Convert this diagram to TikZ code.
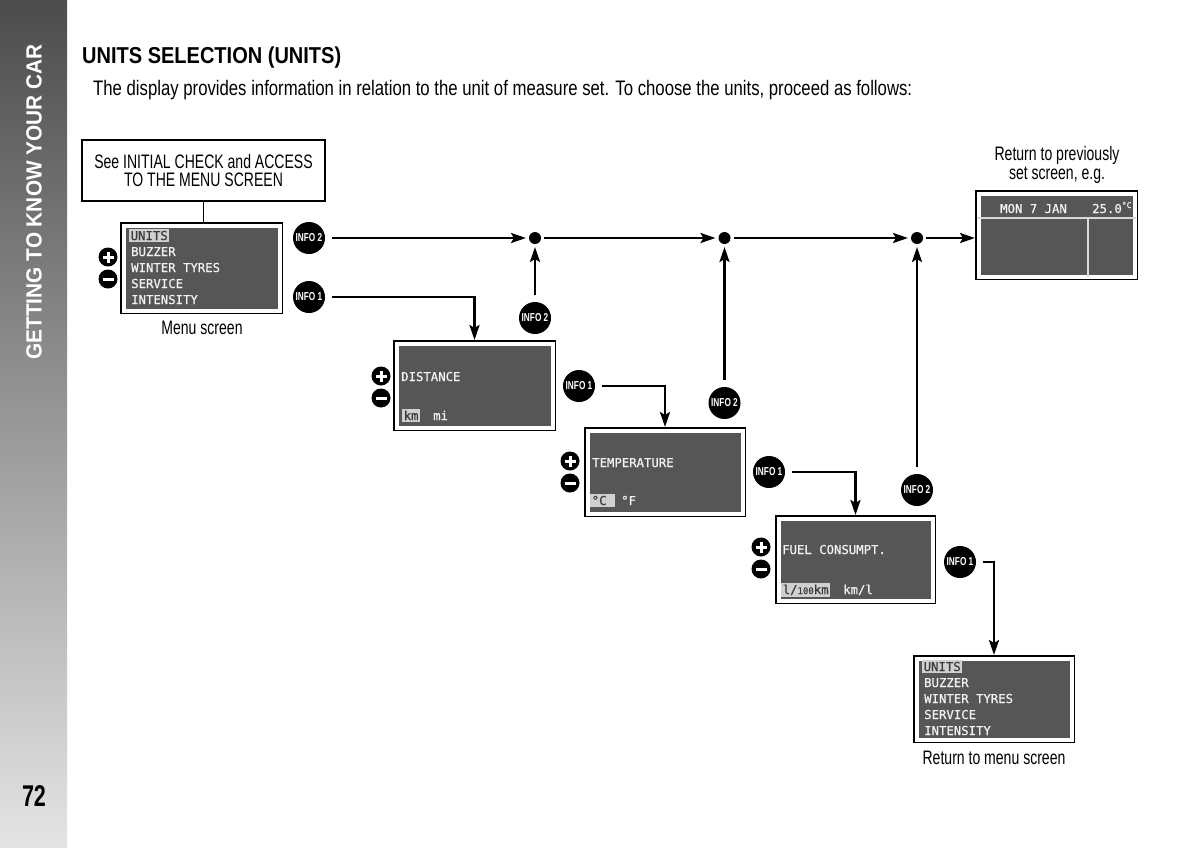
\documentclass[tikz,border=0pt]{standalone}
\usepackage{fontspec}
\usepackage{graphicx}
\setmainfont{Liberation Sans}
\newfontfamily\cond{Liberation Sans}[FakeStretch=0.72]
\newfontfamily\lcd{DejaVu Sans Mono}[FakeBold=0.6]
\usetikzlibrary{arrows.meta}
\definecolor{scr}{HTML}{565656}
\definecolor{lcdtxt}{HTML}{F2F2F2}
\definecolor{hl}{HTML}{D0D0D0}
\definecolor{hltxt}{HTML}{3A3A3A}
\definecolor{sidetop}{HTML}{4C4C4C}
\definecolor{sidebot}{HTML}{E4E4E4}
\newcommand{\hlt}[1]{{\setlength{\fboxsep}{1.5pt}\colorbox{hl}{\textcolor{hltxt}{#1}}}}
\tikzset{
  screen/.style={draw=white, line width=4pt, fill=scr, preaction={draw=black, line width=7pt},
    inner sep=0pt, outer sep=3.5pt},
  lcdtext/.style={anchor=base west, inner sep=0pt, text=lcdtxt, font=\lcd\fontsize{12.3}{14}\selectfont},
  info/.style={circle, fill=black, minimum size=32pt, inner sep=0pt, text=white,
    font=\cond\bfseries\fontsize{11.5}{11.5}\selectfont},
  junction/.style={circle, fill=black, minimum size=12pt, inner sep=0pt, outer sep=3pt},
  pmbtn/.style={circle, fill=black, minimum size=19pt, inner sep=0pt},
  plusbtn/.style={pmbtn, path picture={
    \draw[white, line width=3pt] ([xshift=-5.5pt]path picture bounding box.center) -- ([xshift=5.5pt]path picture bounding box.center)
      ([yshift=-5.5pt]path picture bounding box.center) -- ([yshift=5.5pt]path picture bounding box.center);}},
  minusbtn/.style={pmbtn, path picture={
    \draw[white, line width=3pt] ([xshift=-5.5pt]path picture bounding box.center) -- ([xshift=5.5pt]path picture bounding box.center);}},
  flow/.style={line width=2.6pt, -{Stealth[length=15pt, width=10pt, inset=3pt]}, shorten <=7pt},
  link/.style={line width=2.6pt, -{Stealth[length=15pt, width=10pt, inset=3pt]}},
  caption/.style={anchor=base, inner sep=0pt, font=\cond\fontsize{19.5}{19.5}\selectfont},
}
\begin{document}
\begin{tikzpicture}[x=1pt, y=-1pt]
\useasboundingbox (0,0) rectangle (1200,847);
\fill[white] (0,0) rectangle (1200,847);
% sidebar
\shade[top color=sidetop, bottom color=sidebot] (0,0) rectangle (67,847);
\node[rotate=90, text=white, font=\bfseries\fontsize{22}{22}\selectfont, inner sep=0pt] (side) at (34,202)
  {\resizebox{315pt}{\height}{GETTING TO KNOW YOUR CAR}};
\node[anchor=base, font=\bfseries\fontsize{30}{30}\selectfont, inner sep=0pt] (pagenum) at (34,806)
  {\resizebox{24pt}{\height}{72}};
% heading
\node[anchor=base west, font=\bfseries\fontsize{23}{23}\selectfont, inner sep=0pt] (title) at (82,63)
  {\resizebox{259pt}{\height}{UNITS SELECTION (UNITS)}};
\node[anchor=base west, font=\cond\fontsize{21}{21}\selectfont, inner sep=0pt] (intro) at (93,95)
  {\resizebox{819pt}{\height}{The display provides information in relation to the unit of measure set. To choose the units, proceed as follows:}};
% start box
\node[draw=black, line width=1.3pt, minimum width=243pt, minimum height=61pt, inner sep=0pt,
  font=\cond\fontsize{19.5}{18}\selectfont, align=center] (start) at (203.5,170.5)
  {See INITIAL CHECK and ACCESS\\TO THE MENU SCREEN};
% screens
\node[screen, minimum width=156pt, minimum height=85pt] (menu) at (201.5,268) {};
\node[screen, minimum width=156pt, minimum height=84pt] (dist) at (474.5,385.5) {};
\node[screen, minimum width=155pt, minimum height=83pt] (temp) at (665,472) {};
\node[screen, minimum width=154pt, minimum height=82pt] (fuel) at (855.5,559.5) {};
\node[screen, minimum width=155pt, minimum height=81pt] (menu2) at (994,699) {};
\node[screen, minimum width=156pt, minimum height=83pt] (ret) at (1056.5,235) {};
\draw[white!85!black, line width=2.5pt] (977,218) -- (1136,218) (1088,218) -- (1088,277);
% menu screen text
\node[lcdtext] (m1) at (129,240) {\hlt{UNITS}};
\node[lcdtext] (m2) at (131,256) {BUZZER};
\node[lcdtext] (m3) at (131,272) {WINTER TYRES};
\node[lcdtext] (m4) at (131,288) {SERVICE};
\node[lcdtext] (m5) at (131,304) {INTENSITY};
\node[caption] (menucap) at (202,334) {Menu screen};
% distance
\node[lcdtext] (d1) at (401,381) {DISTANCE};
\node[lcdtext] (d2) at (402,420) {\hlt{km}};
\node[lcdtext] (d3) at (433,420) {mi};
% temperature
\node[lcdtext] (t1) at (592,467) {TEMPERATURE};
\node[lcdtext] (t2) at (590,505) {\hlt{°C~}};
\node[lcdtext] (t3) at (621,505) {°F};
% fuel
\node[lcdtext] (f1) at (782,554) {FUEL CONSUMPT.};
\node[lcdtext] (f2) at (781,594) {\hlt{l/{\fontsize{9}{9}\selectfont 100}km}};
\node[lcdtext] (f3) at (843,594) {km/l};
% return-to-menu screen
\node[lcdtext] (n1) at (922,671) {\hlt{UNITS}};
\node[lcdtext] (n2) at (924,687) {BUZZER};
\node[lcdtext] (n3) at (924,703) {WINTER TYRES};
\node[lcdtext] (n4) at (924,719) {SERVICE};
\node[lcdtext] (n5) at (924,735) {INTENSITY};
\node[caption] (menu2cap) at (994,764) {Return to menu screen};
% previously set screen
\node[lcdtext] (r1) at (1000,213) {MON 7 JAN};
\node[lcdtext] (r2) at (1092,213) {25.0\raisebox{5pt}{\fontsize{8}{8}\selectfont °C}};
\node[caption] (retcap1) at (1057,160) {Return to previously};
\node[caption] (retcap2) at (1057,179) {set screen, e.g.};
% plus / minus buttons
\node[plusbtn] (pa) at (108,257) {};
\node[minusbtn] (ma) at (108,279) {};
\node[plusbtn] (pb) at (381,376) {};
\node[minusbtn] (mb) at (381,398) {};
\node[plusbtn] (pc) at (570,461) {};
\node[minusbtn] (mc) at (570,483) {};
\node[plusbtn] (pd) at (761,547) {};
\node[minusbtn] (md) at (761,569) {};
% junctions
\node[junction] (dot1) at (535,238) {};
\node[junction] (dot2) at (724.5,238) {};
\node[junction] (dot3) at (917,238) {};
% info buttons
\node[info] (ia2) at (309,238) {INFO 2};
\node[info] (ia1) at (309,297) {INFO 1};
\node[info] (ib2) at (535,318) {INFO 2};
\node[info] (ib1) at (579,386) {INFO 1};
\node[info] (ic2) at (724.5,403) {INFO 2};
\node[info] (ic1) at (769,472) {INFO 1};
\node[info] (id2) at (917,490) {INFO 2};
\node[info] (id1) at (960,562) {INFO 1};
% connectors
\draw[line width=1.8pt] (start.south) -- (start.south |- menu.north);
\draw[flow] (ia2) -- (dot1);
\draw[link] (dot1) -- (dot2);
\draw[link] (dot2) -- (dot3);
\draw[link] (dot3) -- (dot3 -| ret.west);
\draw[flow] (ib2) -- (dot1);
\draw[flow] (ic2) -- (dot2);
\draw[flow] (id2) -- (dot3);
\draw[flow] (ia1) -| (dist.north);
\draw[flow] (ib1) -| (temp.north);
\draw[flow] (ic1) -| (fuel.north);
\draw[flow] (id1) -| (menu2.north);
\end{tikzpicture}
\end{document}
